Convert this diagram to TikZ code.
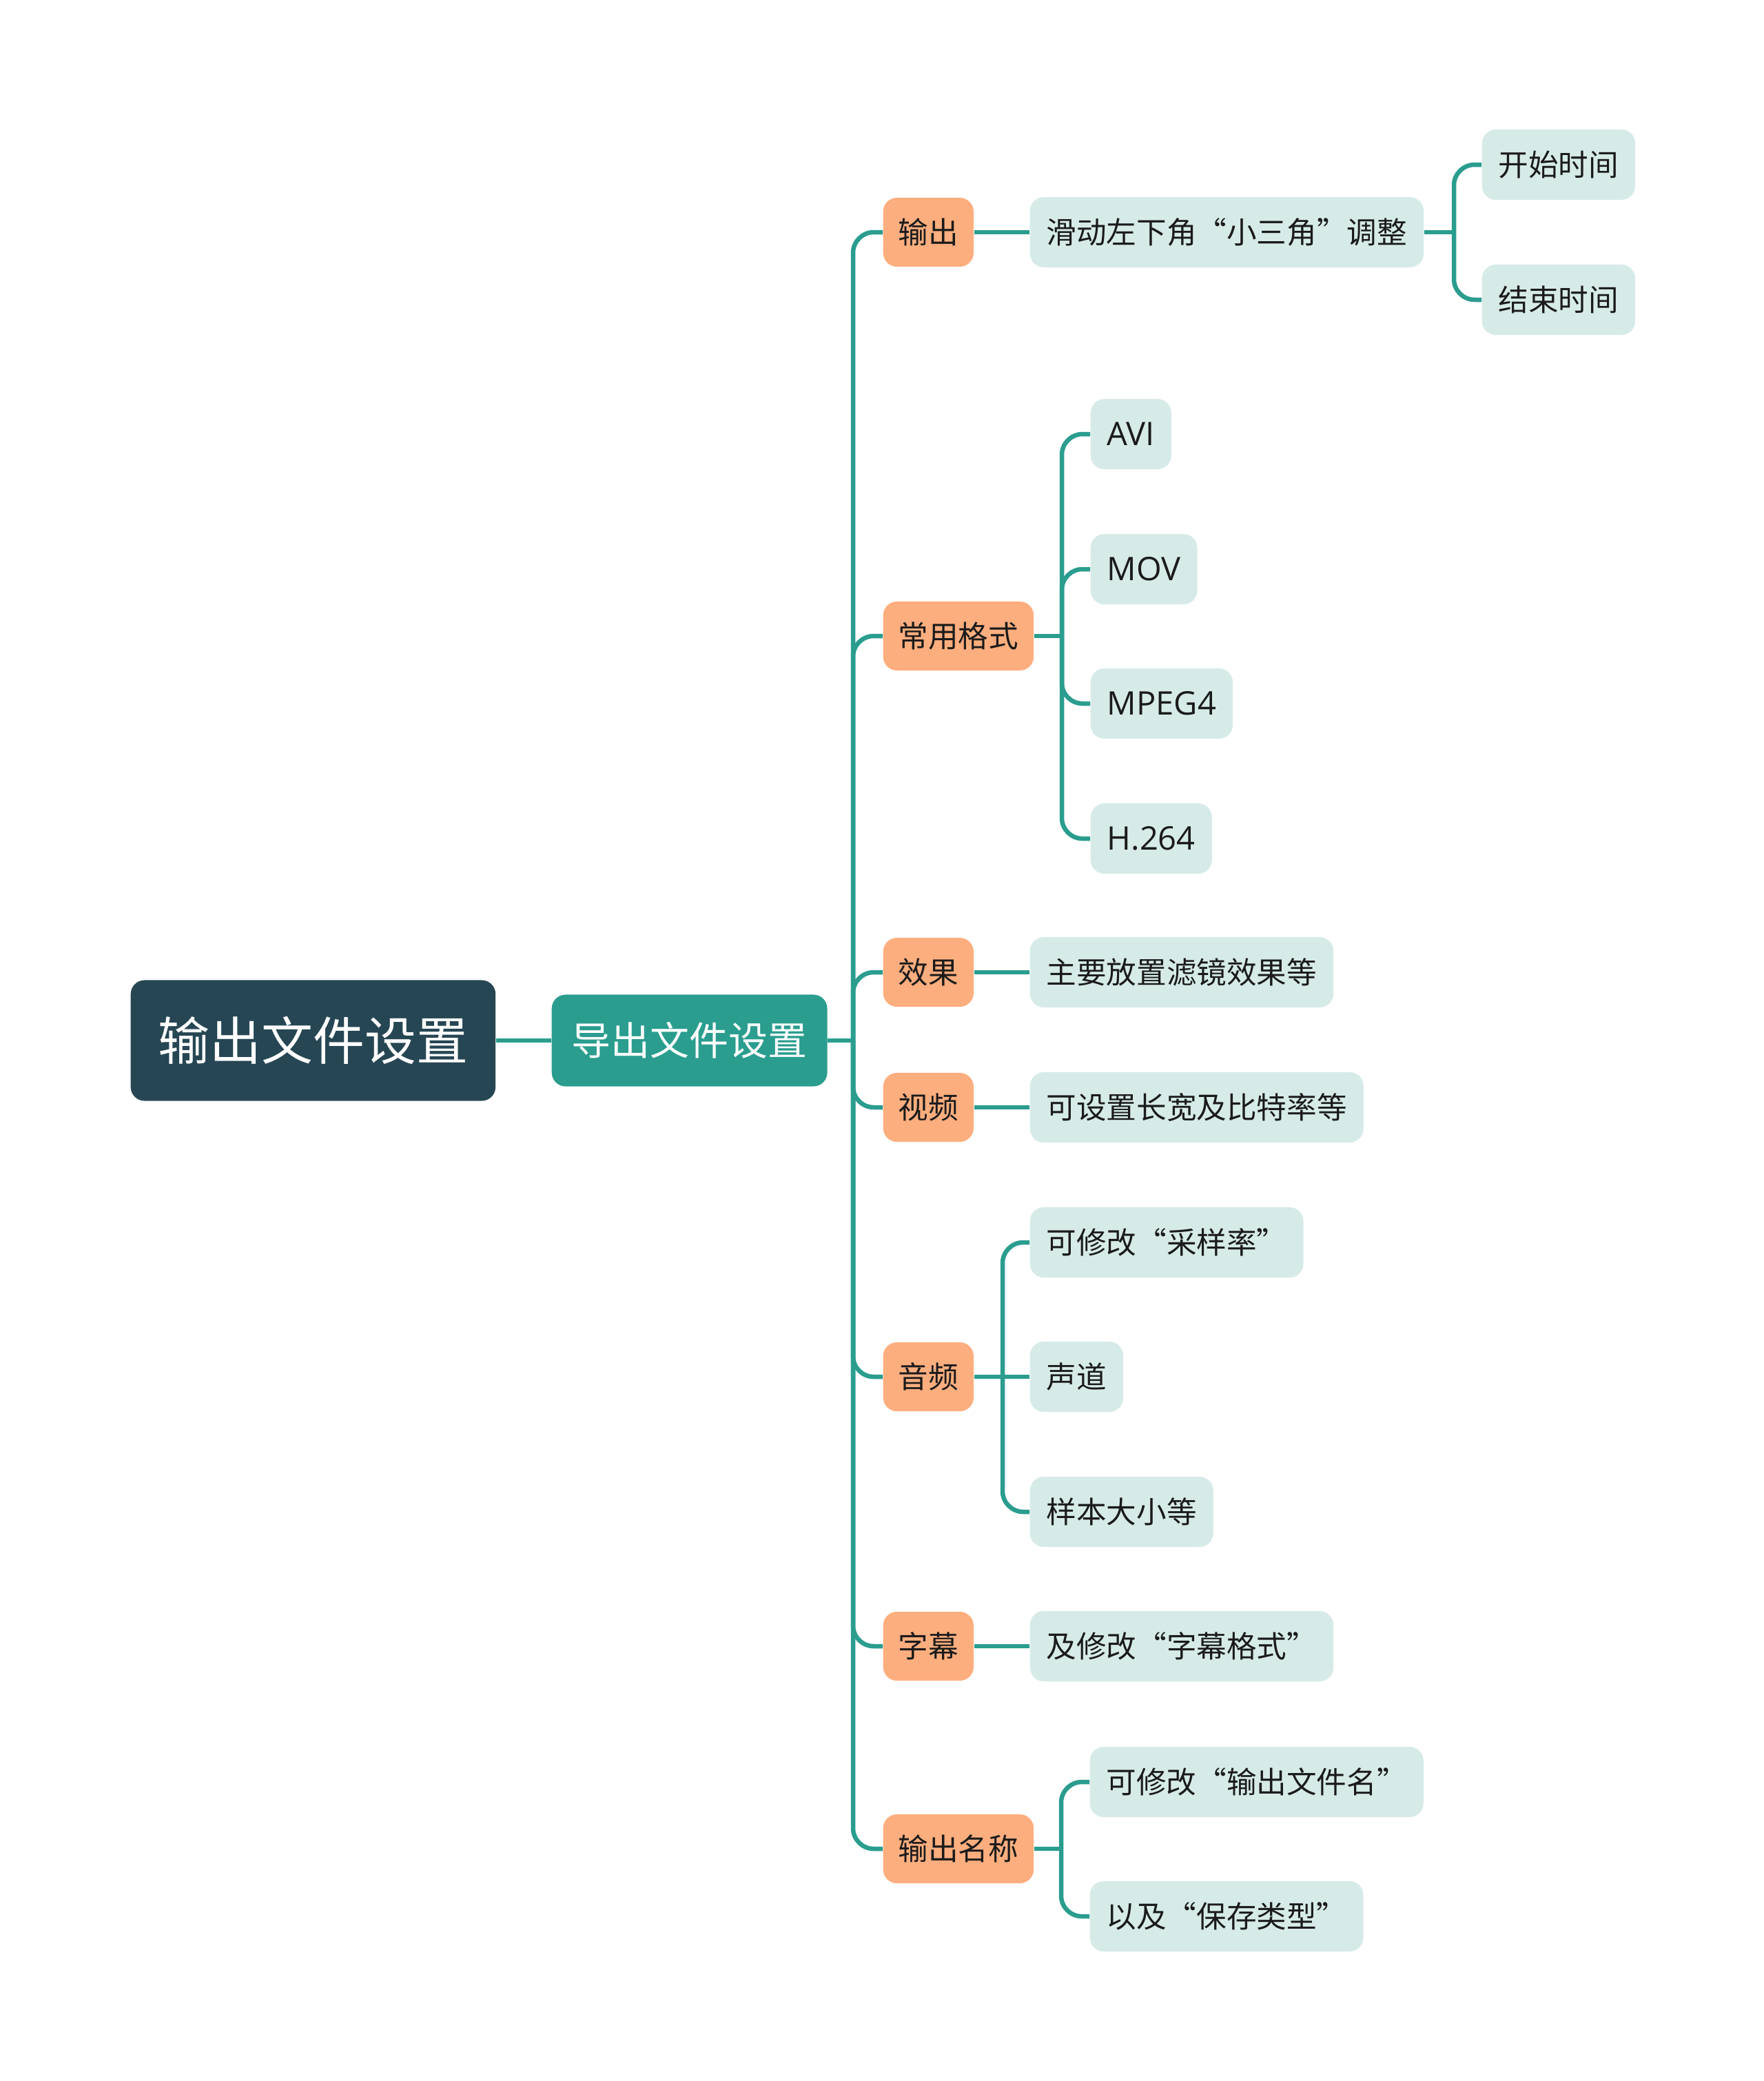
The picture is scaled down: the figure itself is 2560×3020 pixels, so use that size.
\documentclass[tikz,border=0pt]{standalone}
\usepackage{fontspec}
\setmainfont{Noto Sans CJK SC}
\newfontfamily\latinfont{Open Sans}
\usepackage{xcolor}
\usepackage{tikz}
\usetikzlibrary{calc}

\definecolor{rootcol}{HTML}{264653}
\definecolor{tealcol}{HTML}{2A9D8F}
\definecolor{catcol}{HTML}{FDAE7E}
\definecolor{leafcol}{HTML}{D6EBE8}
\definecolor{inkcol}{HTML}{1B1B1B}

\tikzset{
    rootbox/.style={anchor=west, rounded corners=0.2cm, fill=rootcol, text=white,
        font=\fontsize{21.3}{25}\selectfont, inner xsep=0.4cm, inner ysep=0pt, minimum height=1.75cm},
    subbox/.style={anchor=west, rounded corners=0.2cm, fill=tealcol, text=white,
        font=\fontsize{16.2}{19}\selectfont, inner xsep=0.29cm, inner ysep=0pt, minimum height=1.33cm},
    catbox/.style={anchor=west, rounded corners=0.2cm, fill=catcol, text=inkcol,
        font=\fontsize{12.4}{15}\selectfont, inner xsep=0.22cm, inner ysep=0pt, minimum height=1.0cm},
    leafbox/.style={anchor=west, rounded corners=0.2cm, fill=leafcol, text=inkcol,
        font=\fontsize{12.4}{15}\selectfont, inner xsep=0.24cm, inner ysep=0pt, minimum height=1.02cm},
    latinbox/.style={leafbox, font=\latinfont\fontsize{13.4}{16}\selectfont},
    link/.style={draw=tealcol, line width=1.85pt},
    elbow/.style={link, rounded corners=0.3cm}
}

\begin{document}
\begin{tikzpicture}[x=0.01cm, y=-0.01cm]
    \useasboundingbox (0,0) rectangle (2560,3020);

    % root and the one sub topic
    \node[rootbox] (root) at (189,1510) {输出文件设置};
    \node[subbox] (sub) at (800,1510) {导出文件设置};
    \coordinate (sp) at (1238,1510);

    % categories
    \node[catbox] (out) at (1281,337) {输出};
    \node[catbox] (fmt) at (1281,923) {常用格式};
    \node[catbox] (fx) at (1281,1411) {效果};
    \node[catbox] (vid) at (1281,1607) {视频};
    \node[catbox] (aud) at (1281,1998) {音频};
    \node[catbox] (sbt) at (1281,2389) {字幕};
    \node[catbox] (name) at (1281,2683) {输出名称};

    % leaves
    \node[leafbox] (slide) at (1494,337) {滑动左下角“小三角”调整};
    \node[leafbox] (start) at (2150,239) {开始时间};
    \node[leafbox] (stop) at (2150,435) {结束时间};
    \node[latinbox] (avi) at (1582,630) {AVI};
    \node[latinbox] (mov) at (1582,826) {MOV};
    \node[latinbox] (mpeg) at (1582,1021) {MPEG4};
    \node[latinbox] (h264) at (1582,1217) {H.264};
    \node[leafbox] (filt) at (1494,1411) {主要放置滤镜效果等};
    \node[leafbox] (size) at (1494,1607) {可设置长宽及比特率等};
    \node[leafbox] (rate) at (1494,1803) {可修改“采样率”};
    \node[leafbox] (chan) at (1494,1998) {声道};
    \node[leafbox] (smp) at (1494,2194) {样本大小等};
    \node[leafbox] (sfmt) at (1494,2389) {及修改“字幕格式”};
    \node[leafbox] (fname) at (1581,2586) {可修改“输出文件名”};
    \node[leafbox] (ftype) at (1581,2781) {以及“保存类型”};

    % branch points
    \coordinate (bslide) at (2110,337);
    \coordinate (bfmt) at (1541,923);
    \coordinate (baud) at (1455,1998);
    \coordinate (bname) at (1540,2683);

    % connectors
    \draw[link] (root) -- (sub);
    \draw[link] (sub) -- (sp);
    \foreach \c in {out,fmt,fx,vid,aud,sbt,name}
        \draw[elbow] (\c.west) -| (sp);
    \draw[link] (out) -- (slide);
    \draw[link] (slide) -- (bslide);
    \foreach \c in {start,stop}
        \draw[elbow] (\c.west) -| (bslide);
    \draw[link] (fmt) -- (bfmt);
    \foreach \c in {avi,mov,mpeg,h264}
        \draw[elbow] (\c.west) -| (bfmt);
    \draw[link] (fx) -- (filt);
    \draw[link] (vid) -- (size);
    \draw[link] (aud) -- (chan);
    \foreach \c in {rate,smp}
        \draw[elbow] (\c.west) -| (baud);
    \draw[link] (sbt) -- (sfmt);
    \draw[link] (name) -- (bname);
    \foreach \c in {fname,ftype}
        \draw[elbow] (\c.west) -| (bname);
\end{tikzpicture}
\end{document}
